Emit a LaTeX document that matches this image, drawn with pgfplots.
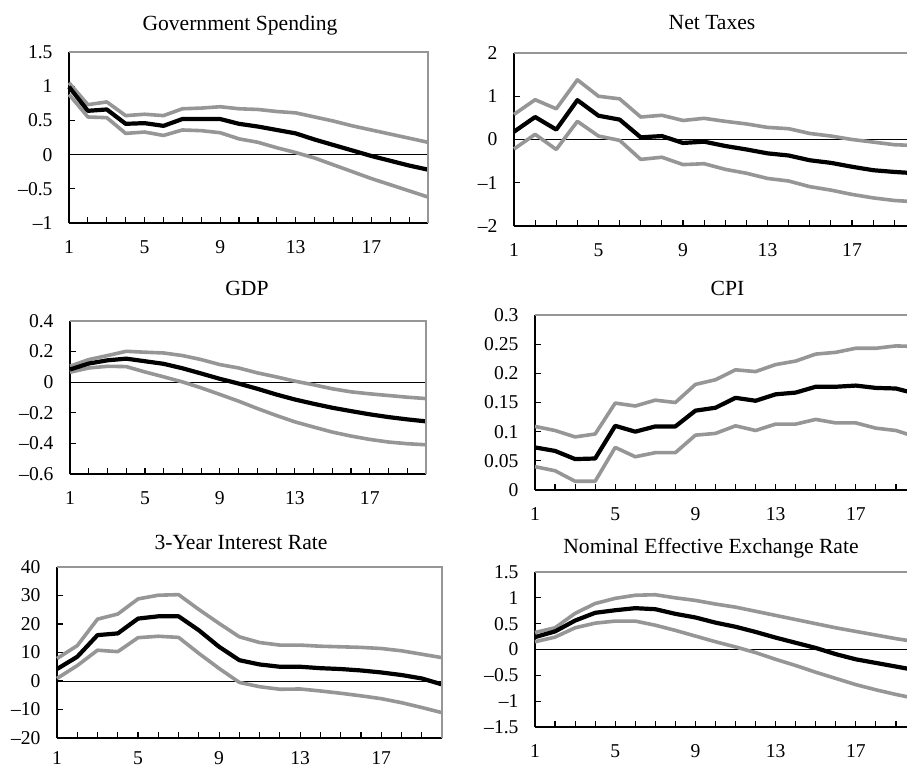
\documentclass[border=0pt]{standalone}
\usepackage{fontspec}
\setmainfont{Liberation Serif}
\usepackage{pgfplots}
\usepackage{pgfplotstable}
\pgfplotsset{compat=1.18}

\definecolor{bandgray}{RGB}{150,150,150}

% Impulse responses: lower band, point estimate, upper band
\pgfplotstableread{
x lo mid hi
1 0.88 0.99 1.05
2 0.55 0.64 0.73
3 0.54 0.66 0.77
4 0.31 0.45 0.57
5 0.33 0.46 0.59
6 0.28 0.42 0.57
7 0.36 0.52 0.67
8 0.35 0.52 0.68
9 0.32 0.52 0.70
10 0.23 0.45 0.67
11 0.18 0.41 0.66
12 0.10 0.36 0.63
13 0.03 0.31 0.61
14 -0.05 0.22 0.55
15 -0.15 0.14 0.49
16 -0.25 0.06 0.42
17 -0.35 -0.02 0.36
18 -0.44 -0.09 0.30
19 -0.53 -0.16 0.24
20 -0.62 -0.22 0.18
}\govtab

\pgfplotstableread{
x lo mid hi
1 -0.22 0.18 0.58
2 0.12 0.52 0.92
3 -0.23 0.23 0.71
4 0.42 0.91 1.38
5 0.08 0.55 1.00
6 -0.02 0.46 0.94
7 -0.46 0.05 0.52
8 -0.41 0.08 0.56
9 -0.58 -0.08 0.44
10 -0.56 -0.05 0.49
11 -0.69 -0.15 0.42
12 -0.78 -0.23 0.36
13 -0.90 -0.32 0.28
14 -0.96 -0.37 0.25
15 -1.09 -0.48 0.14
16 -1.17 -0.54 0.08
17 -1.27 -0.63 0.00
18 -1.35 -0.71 -0.06
19 -1.41 -0.75 -0.12
20 -1.44 -0.78 -0.14
}\taxtab

\pgfplotstableread{
x lo mid hi
1 0.065 0.083 0.104
2 0.093 0.122 0.148
3 0.104 0.143 0.174
4 0.102 0.154 0.202
5 0.067 0.137 0.196
6 0.035 0.120 0.191
7 0.002 0.091 0.174
8 -0.037 0.057 0.148
9 -0.080 0.022 0.115
10 -0.124 -0.009 0.093
11 -0.172 -0.043 0.061
12 -0.217 -0.080 0.035
13 -0.259 -0.113 0.007
14 -0.293 -0.141 -0.017
15 -0.326 -0.167 -0.043
16 -0.352 -0.189 -0.063
17 -0.374 -0.210 -0.076
18 -0.391 -0.228 -0.087
19 -0.402 -0.243 -0.098
20 -0.409 -0.256 -0.107
}\gdptab

\pgfplotstableread{
x lo mid hi
1 0.040 0.073 0.109
2 0.033 0.067 0.102
3 0.015 0.053 0.091
4 0.015 0.054 0.096
5 0.073 0.110 0.149
6 0.057 0.100 0.144
7 0.064 0.109 0.154
8 0.064 0.109 0.150
9 0.094 0.136 0.181
10 0.097 0.141 0.189
11 0.110 0.158 0.206
12 0.102 0.153 0.203
13 0.113 0.164 0.215
14 0.113 0.167 0.221
15 0.121 0.177 0.233
16 0.115 0.177 0.236
17 0.115 0.179 0.243
18 0.106 0.175 0.243
19 0.102 0.174 0.247
20 0.091 0.165 0.246
}\cpitab

\pgfplotstableread{
x lo mid hi
1 0.9 4.2 7.9
2 5.4 8.5 12.4
3 10.8 16.1 21.7
4 10.3 16.7 23.5
5 15.2 21.9 28.8
6 15.7 22.7 30.1
7 15.3 22.7 30.3
8 9.7 17.8 25.1
9 4.4 12.0 20.2
10 -0.5 7.3 15.5
11 -2.0 5.8 13.5
12 -2.9 5.0 12.6
13 -2.8 5.0 12.6
14 -3.5 4.5 12.2
15 -4.3 4.2 12.0
16 -5.2 3.7 11.8
17 -6.2 3.0 11.4
18 -7.6 2.1 10.6
19 -9.3 0.9 9.4
20 -11.1 -1.2 8.2
}\ratetab

\pgfplotstableread{
x lo mid hi
1 0.15 0.24 0.33
2 0.24 0.35 0.42
3 0.42 0.56 0.70
4 0.51 0.71 0.89
5 0.55 0.76 0.99
6 0.55 0.80 1.05
7 0.47 0.78 1.06
8 0.37 0.69 1.00
9 0.26 0.62 0.95
10 0.15 0.52 0.88
11 0.05 0.44 0.82
12 -0.06 0.34 0.74
13 -0.19 0.23 0.66
14 -0.31 0.13 0.58
15 -0.44 0.03 0.50
16 -0.56 -0.09 0.42
17 -0.68 -0.19 0.35
18 -0.78 -0.26 0.28
19 -0.87 -0.33 0.21
20 -0.95 -0.40 0.15
}\neertab

\pgfplotsset{
  irf/.style={
    scale only axis,
    anchor=south west,
    xmin=1, xmax=20,
    axis lines=left,
    axis line style={-, black, line width=1pt},
    xtick={1,...,20},
    xticklabels={1,,,,5,,,,9,,,,13,,,,17,,,},
    tick align=inside,
    major tick length=3pt,
    tick style={black, line width=0.6pt},
    ticklabel style={font=\fontsize{9.8}{11}\selectfont},
    yticklabel style={xshift=-4.7pt},
    clip=false,
    after end axis/.code={
      \draw[bandgray, line width=1pt] (rel axis cs:0,1) -- (rel axis cs:1,1) -- (rel axis cs:1,0);
    },
  },
  labeldrop/.style={xticklabel style={yshift=#1}},
  labeldrop/.default=-5.2pt,
  mid/.style={black, line width=2.1pt, line join=round},
  band/.style={bandgray, line width=1.8pt, line join=round},
}

\newcommand{\zeroline}{\draw[black, line width=0.5pt] (axis cs:1,0) -- (axis cs:20,0);}
\newcommand{\irfplots}[1]{%
  \addplot[band] table[x=x, y=hi] {#1};
  \addplot[band] table[x=x, y=lo] {#1};
  \addplot[mid] table[x=x, y=mid] {#1};
}

\begin{document}
\begin{tikzpicture}
\tikzset{ptitle/.style={anchor=base, font=\fontsize{10.8}{13}\selectfont}}

% Government Spending
\begin{axis}[irf, labeldrop, at={(34.5pt,272.5pt)}, width=179.5pt, height=85.5pt,
  ymin=-1, ymax=1.5, ytick={-1,-0.5,0,0.5,1,1.5},
  yticklabels={–1,–0.5,0,0.5,1,1.5}]
  \zeroline
  \irfplots{\govtab}
\end{axis}
\node[ptitle] at (120pt,368.5pt) {Government Spending};

% Net Taxes
\begin{axis}[irf, labeldrop, at={(257pt,271pt)}, width=200.7pt, height=86.5pt,
  ymin=-2, ymax=2, ytick={-2,-1,0,1,2},
  yticklabels={–2,–1,0,1,2}]
  \zeroline
  \irfplots{\taxtab}
\end{axis}
\node[ptitle] at (356pt,369pt) {Net Taxes};

% GDP
\begin{axis}[irf, labeldrop, at={(35pt,147pt)}, width=178pt, height=76.5pt,
  ymin=-0.6, ymax=0.4, ytick={-0.6,-0.4,-0.2,0,0.2,0.4},
  yticklabels={–0.6,–0.4,–0.2,0,0.2,0.4}]
  \zeroline
  \irfplots{\gdptab}
\end{axis}
\node[ptitle] at (123.5pt,236.5pt) {GDP};

% CPI
\begin{axis}[irf, labeldrop, at={(267.5pt,139pt)}, width=190.5pt, height=87.5pt,
  ymin=0, ymax=0.3, ytick={0,0.05,0.1,0.15,0.2,0.25,0.3},
  yticklabels={0,0.05,0.1,0.15,0.2,0.25,0.3}]
  \irfplots{\cpitab}
\end{axis}
\node[ptitle] at (363.75pt,236.5pt) {CPI};

% 3-Year Interest Rate
\begin{axis}[irf, labeldrop=-3.4pt, at={(28.5pt,15pt)}, width=192.5pt, height=85.5pt,
  ymin=-20, ymax=40, ytick={-20,-10,0,10,20,30,40},
  yticklabels={–20,–10,0,10,20,30,40}]
  \zeroline
  \irfplots{\ratetab}
\end{axis}
\node[ptitle] at (120.5pt,109.5pt) {3-Year Interest Rate};

% Nominal Effective Exchange Rate
\begin{axis}[irf, labeldrop, at={(267.5pt,20.5pt)}, width=190.5pt, height=77.5pt,
  ymin=-1.5, ymax=1.5, ytick={-1.5,-1,-0.5,0,0.5,1,1.5},
  yticklabels={–1.5,–1,–0.5,0,0.5,1,1.5}]
  \zeroline
  \irfplots{\neertab}
\end{axis}
\node[ptitle] at (355.5pt,107.5pt) {Nominal Effective Exchange Rate};

\pgfresetboundingbox
\path[use as bounding box] (0,0) rectangle (453.5pt,384pt);
\end{tikzpicture}
\end{document}
